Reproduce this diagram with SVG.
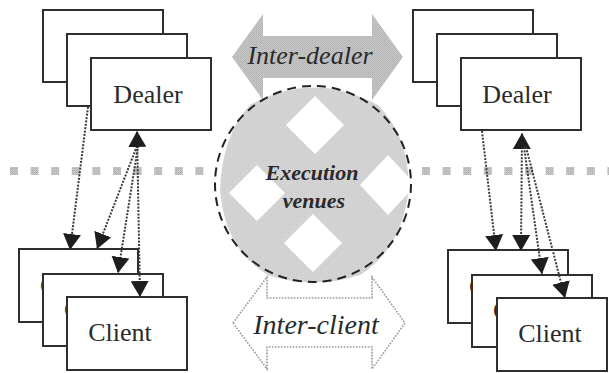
<svg xmlns="http://www.w3.org/2000/svg" width="609" height="373" viewBox="0 0 609 373">
  <style>
    .box { fill: #ffffff; stroke: #2e2e2e; stroke-width: 2; }
    .lbl { font-family: "Liberation Serif", "Times New Roman", serif; font-size: 26px; fill: #2a2a2a; text-anchor: middle; }
    .lbl-back { font-family: "Liberation Serif", "Times New Roman", serif; font-size: 26px; fill: #2a2a2a; }
    .link { fill: none; stroke: #3a3a3a; stroke-width: 2; stroke-dasharray: 2 1.4; }
    .venue { font-family: "Liberation Serif", "Times New Roman", serif; font-style: italic; fill: #2a2a2a; text-anchor: middle; }
  </style>
  <defs>
    <pattern id="grain" width="2" height="2" patternUnits="userSpaceOnUse">
      <rect width="2" height="2" fill="#d8d8d8"/>
      <rect width="1" height="1" fill="#c9c9c9"/>
      <rect x="1" y="1" width="1" height="1" fill="#d0d0d0"/>
    </pattern>
    <pattern id="grain-dark" width="2" height="2" patternUnits="userSpaceOnUse">
      <rect width="2" height="2" fill="#c6c6c6"/>
      <rect width="1" height="1" fill="#b2b2b2"/>
      <rect x="1" y="1" width="1" height="1" fill="#bcbcbc"/>
    </pattern>
    <marker id="head" viewBox="0 0 16 18" refX="16" refY="9" markerWidth="16" markerHeight="18" markerUnits="userSpaceOnUse" orient="auto-start-reverse">
      <path d="M0,0 L16,9 L0,18 Z" fill="#1e1e1e"/>
    </marker>
  </defs>

  <rect width="609" height="373" fill="#ffffff"/>

  <!-- boundary band between dealer tier and client tier -->
  <line x1="10" y1="171" x2="609" y2="171" stroke="url(#grain-dark)" stroke-width="8" stroke-dasharray="8 12.6"/>

  <!-- execution venues hub -->
  <g id="venues">
    <circle cx="313" cy="184" r="98" fill="#ffffff"/>
    <path d="M232,57 L263,14 L263,36 L372,36 L372,14 L403,57 L372,100 L372,78 L263,78 L263,100 Z" fill="url(#grain-dark)"/>
    <path d="M250,105 Q313,70 378,105 Q412,140 408,195 Q400,250 360,275 Q313,290 268,275 Q225,250 220,190 Q222,135 250,105 Z" fill="url(#grain)"/>
    <path d="M315,96 L344,125 L315,154 L286,125 Z" fill="#ffffff"/>
    <path d="M257,165 L285,193 L257,221 L229,193 Z" fill="#ffffff"/>
    <path d="M388,155 L416,185 L388,215 L360,185 Z" fill="#ffffff"/>
    <path d="M313,214 L342,243 L313,272 L284,243 Z" fill="#ffffff"/>
    <circle cx="313" cy="184" r="98" fill="none" stroke="#222" stroke-width="2" stroke-dasharray="9 6"/>
    <text class="venue" x="310" y="64" font-size="26">Inter-dealer</text>
    <text class="venue" x="312" y="180" font-size="22" font-weight="bold">Execution</text>
    <text class="venue" x="314" y="208" font-size="22" font-weight="bold">venues</text>
  </g>

  <g id="inter-client">
    <path d="M233,323 L267,277 L267,298 L372,298 L372,277 L405,323 L372,369 L372,347 L267,347 L267,369 Z" fill="#ffffff" stroke="#9a9a9a" stroke-width="1.6" stroke-dasharray="1.6 1.4"/>
    <text class="venue" x="316" y="334" font-size="28">Inter-client</text>
  </g>

  <!-- dealer stacks -->
  <g id="dealers-left">
    <rect class="box" x="43" y="10" width="120" height="72"/>
    <rect class="box" x="67" y="34" width="120" height="72"/>
    <rect class="box" x="91" y="58" width="120" height="72"/>
    <text class="lbl" x="148" y="103">Dealer</text>
  </g>
  <g id="dealers-right">
    <rect class="box" x="413" y="10" width="120" height="72"/>
    <rect class="box" x="437" y="34" width="120" height="72"/>
    <rect class="box" x="461" y="58" width="120" height="72"/>
    <text class="lbl" x="517" y="103">Dealer</text>
  </g>

  <!-- client stacks: back cards show only the edge of their initial -->
  <g id="clients-left">
    <rect class="box" x="19" y="249" width="119" height="73"/>
    <text class="lbl-back" x="40" y="294">C</text>
    <rect class="box" x="43" y="274" width="120" height="72"/>
    <text class="lbl-back" x="64" y="318">C</text>
    <rect class="box" x="67" y="297" width="120" height="73"/>
    <text class="lbl" x="120" y="341">Client</text>
  </g>
  <g id="clients-right">
    <rect class="box" x="448" y="250" width="120" height="73"/>
    <text class="lbl-back" x="469" y="295">C</text>
    <rect class="box" x="472" y="275" width="120" height="72"/>
    <text class="lbl-back" x="493" y="319">C</text>
    <rect class="box" x="497" y="298" width="110" height="73"/>
    <text class="lbl" x="550" y="342">Client</text>
  </g>

  <!-- order flow connectors -->
  <g id="connectors">
    <path class="link" d="M88,107 L70,250" marker-end="url(#head)"/>
    <path class="link" d="M137,146 L97,249" marker-end="url(#head)"/>
    <path class="link" d="M138,146 L118,273" marker-end="url(#head)"/>
    <path class="link" d="M140,297 L137,131" marker-start="url(#head)" marker-end="url(#head)"/>

    <path class="link" d="M482,131 L496,251" marker-end="url(#head)"/>
    <path class="link" d="M521,251 L522,133" marker-start="url(#head)" marker-end="url(#head)"/>
    <path class="link" d="M524,147 L542,274" marker-end="url(#head)"/>
    <path class="link" d="M526,147 L565,298" marker-end="url(#head)"/>
  </g>
</svg>
